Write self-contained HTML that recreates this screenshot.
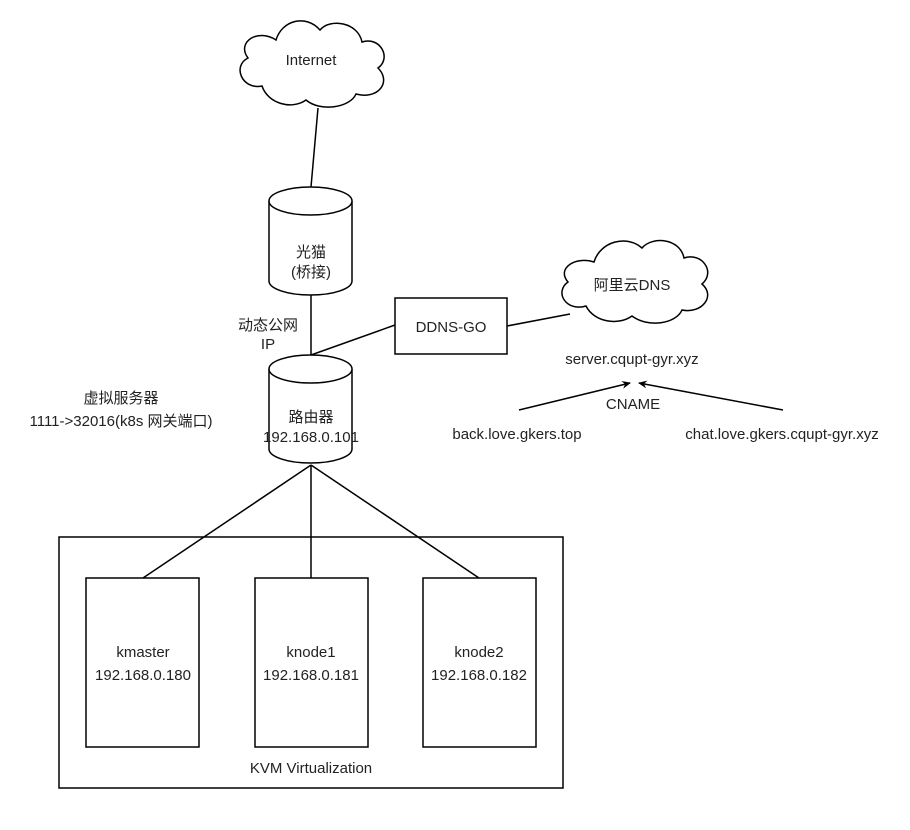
<!DOCTYPE html>
<html><head><meta charset="utf-8"><style>
html,body{margin:0;padding:0;background:#fff;}
svg text{font-family:"Liberation Sans","Noto Sans CJK SC",sans-serif;font-size:15px;fill:#222;}
</style></head><body>
<svg width="910" height="825" viewBox="0 0 910 825" xmlns="http://www.w3.org/2000/svg">
<defs><marker id="ar" markerWidth="10" markerHeight="10" refX="8" refY="5" orient="auto" markerUnits="userSpaceOnUse"><path d="M0,1 L9,5 L0,9 L3,5 Z" fill="#000"/></marker></defs>
<g fill="none" stroke="#000" stroke-width="1.5">
<!-- Internet cloud -->
<path d="M276,40 C258,28 236,42 248,58 C232,66 242,90 262,86 C268,104 292,110 306,100 C320,112 350,108 356,94 C378,100 392,82 378,68 C392,58 380,36 362,42 C358,22 330,18 320,30 C306,14 282,20 276,40 Z" fill="#fff"/>
<line x1="318" y1="108" x2="311" y2="187"/>
<!-- modem cylinder -->
<path d="M269,201 L269,281 A41.5,14 0 0 0 352,281 L352,201" fill="#fff"/>
<ellipse cx="310.5" cy="201" rx="41.5" ry="14" fill="#fff"/>
<line x1="311" y1="295" x2="311" y2="355"/>
<!-- router cylinder -->
<path d="M269,369 L269,449 A41.5,14 0 0 0 352,449 L352,369" fill="#fff"/>
<ellipse cx="310.5" cy="369" rx="41.5" ry="14" fill="#fff"/>
<line x1="311" y1="355" x2="395" y2="325"/>
<rect x="395" y="298" width="112" height="56" fill="#fff"/>
<line x1="507" y1="326" x2="570" y2="314"/>
<!-- DNS cloud -->
<path d="M594,262 C576,256 556,268 568,282 C554,292 566,312 586,306 C594,322 618,326 632,316 C648,328 676,324 682,310 C702,314 716,296 702,284 C716,272 702,252 684,258 C680,238 652,236 642,248 C626,234 600,242 594,262 Z" fill="#fff"/>
<line x1="519" y1="410" x2="630" y2="383" marker-end="url(#ar)"/>
<line x1="783" y1="410" x2="639" y2="383" marker-end="url(#ar)"/>
<!-- KVM -->
<rect x="59" y="537" width="504" height="251"/>
<line x1="311" y1="465" x2="143" y2="578"/>
<line x1="311" y1="465" x2="311" y2="578"/>
<line x1="311" y1="465" x2="479" y2="578"/>
<rect x="86" y="578" width="113" height="169" fill="#fff"/>
<rect x="255" y="578" width="113" height="169" fill="#fff"/>
<rect x="423" y="578" width="113" height="169" fill="#fff"/>
</g>
<g text-anchor="middle">
<text x="311" y="65">Internet</text>
<text x="311" y="257">光猫</text>
<text x="311" y="277">(桥接)</text>
<text x="268" y="330">动态公网</text>
<text x="268" y="349">IP</text>
<text x="311" y="422">路由器</text>
<text x="311" y="442">192.168.0.101</text>
<text x="451" y="332">DDNS-GO</text>
<text x="632" y="290">阿里云DNS</text>
<text x="632" y="364">server.cqupt-gyr.xyz</text>
<text x="633" y="409">CNAME</text>
<text x="517" y="439">back.love.gkers.top</text>
<text x="782" y="439">chat.love.gkers.cqupt-gyr.xyz</text>
<text x="121" y="403">虚拟服务器</text>
<text x="121" y="426">1111-&gt;32016(k8s 网关端口)</text>
<text x="143" y="657">kmaster</text>
<text x="143" y="680">192.168.0.180</text>
<text x="311" y="657">knode1</text>
<text x="311" y="680">192.168.0.181</text>
<text x="479" y="657">knode2</text>
<text x="479" y="680">192.168.0.182</text>
<text x="311" y="773">KVM Virtualization</text>
</g>
</svg>
</body></html>
